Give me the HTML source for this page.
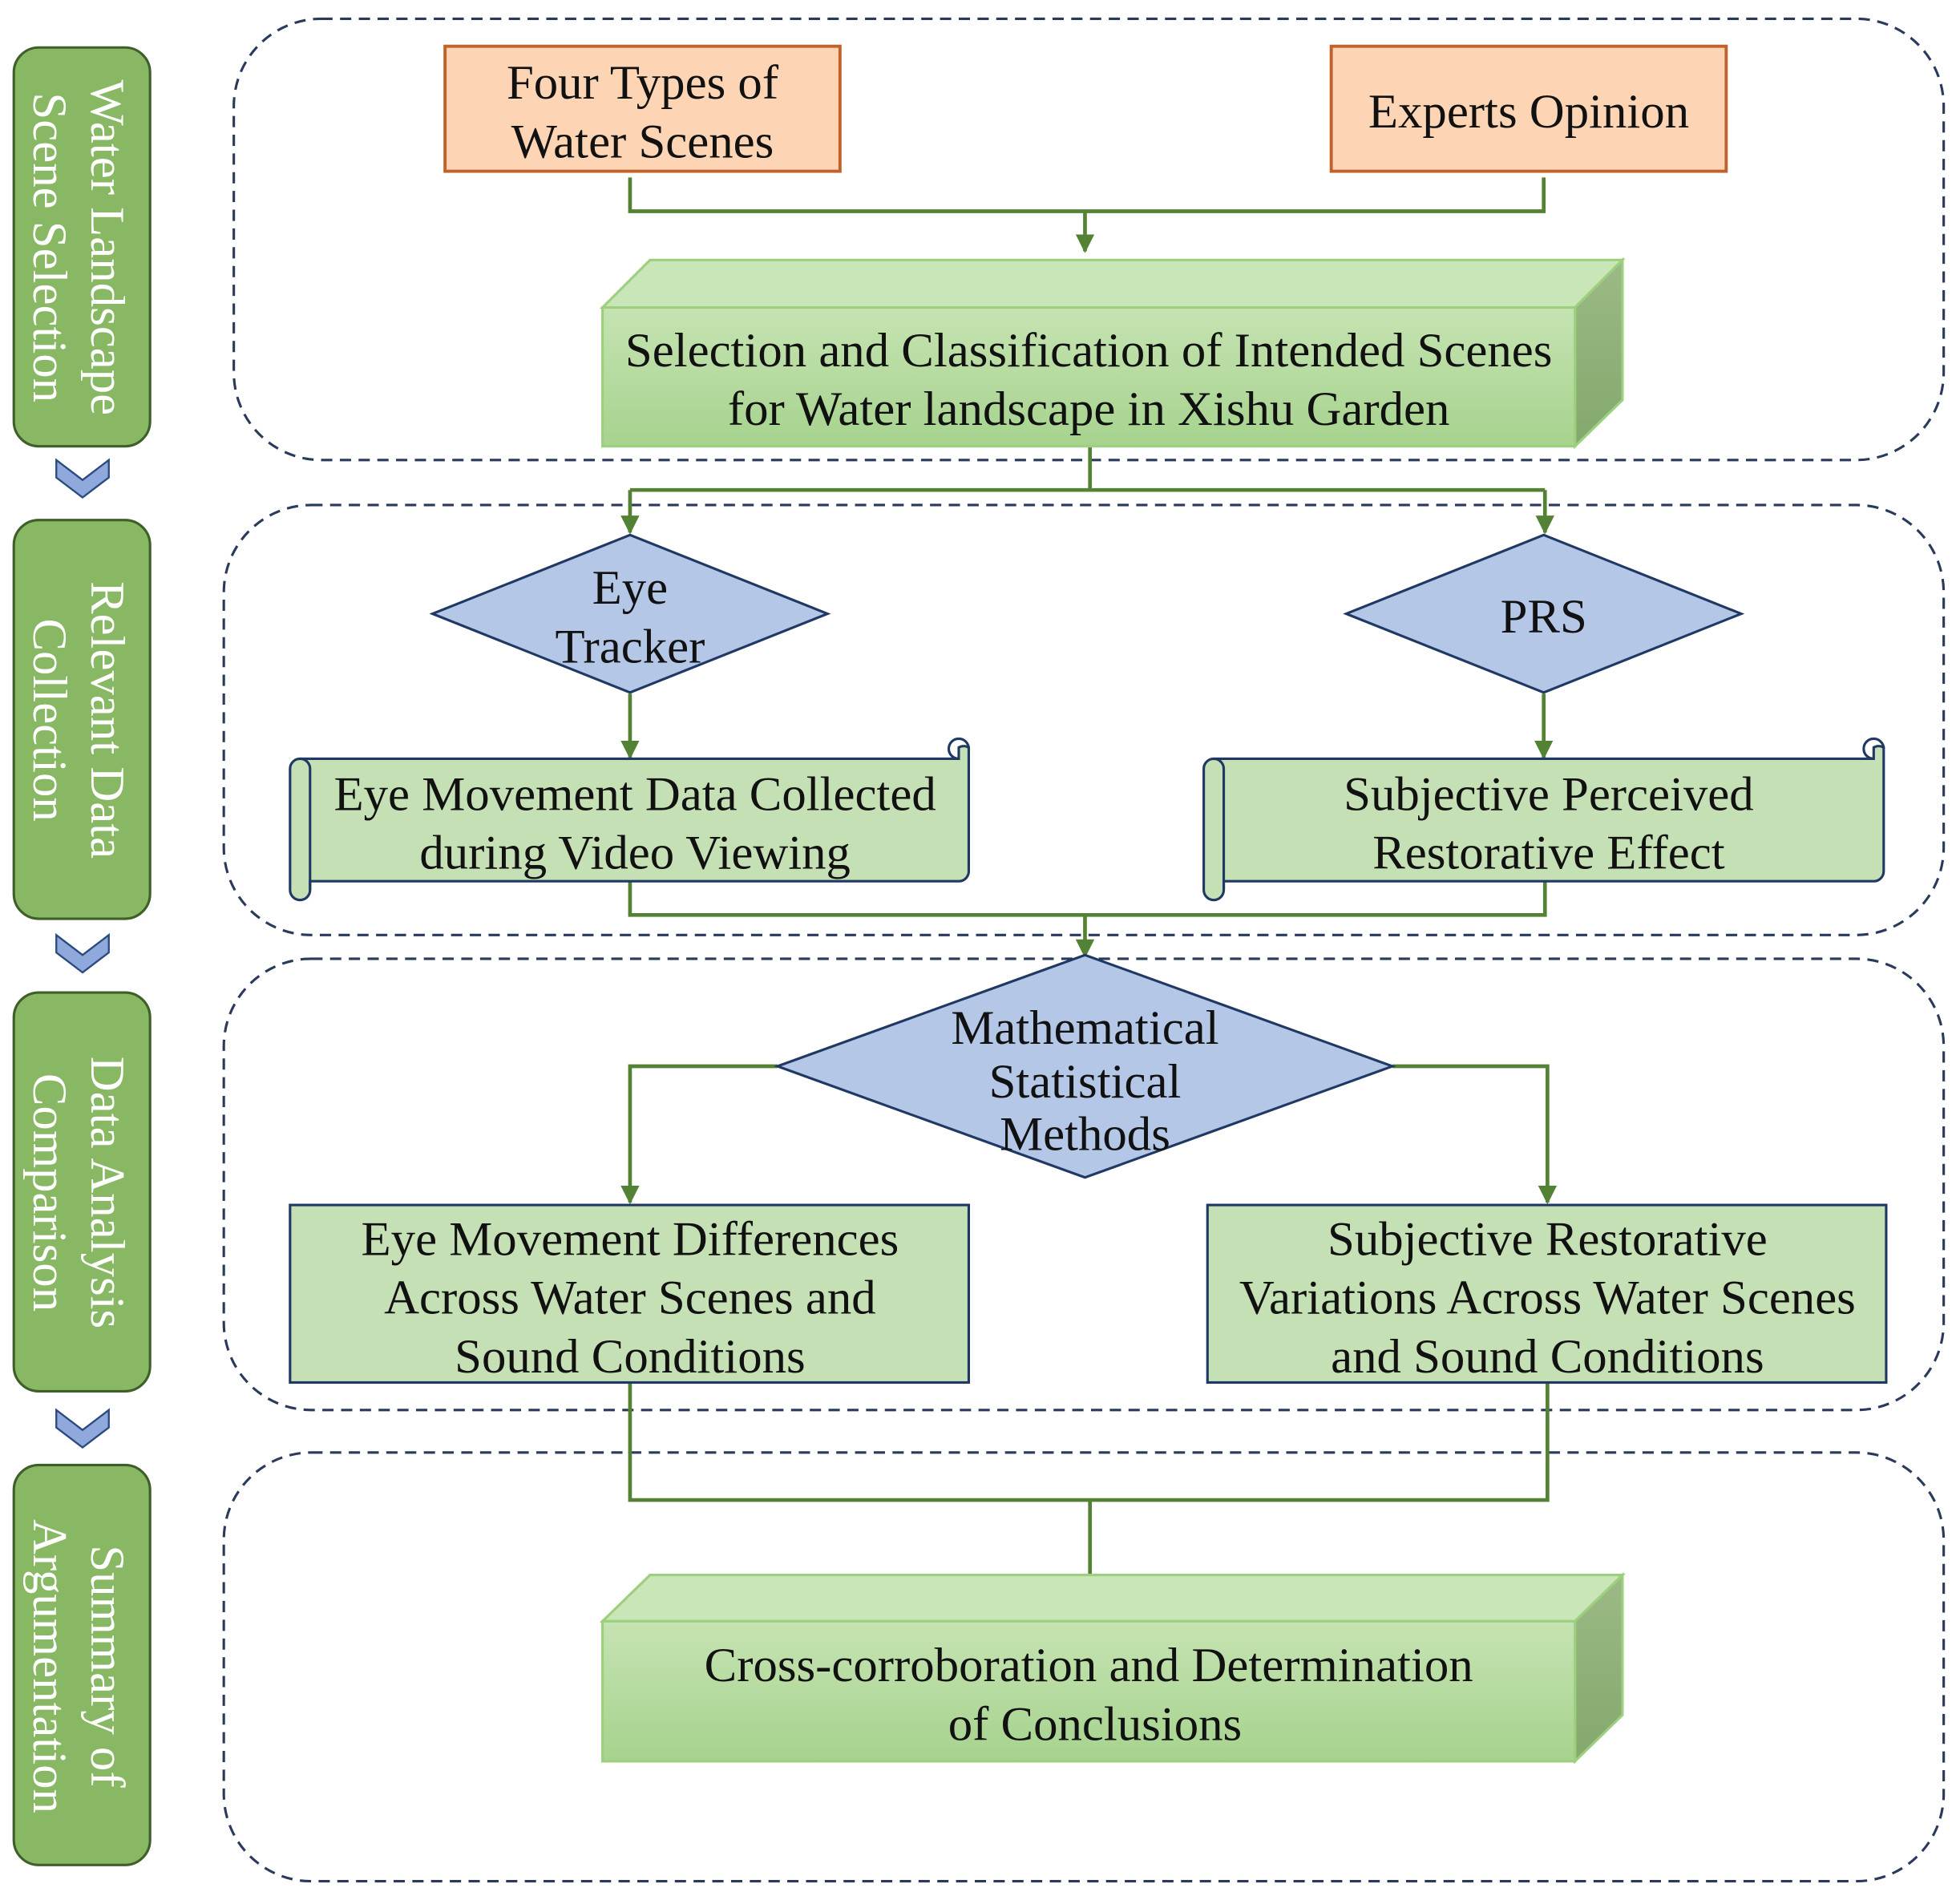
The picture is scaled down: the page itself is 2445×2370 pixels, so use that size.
<!DOCTYPE html>
<html><head><meta charset="utf-8"><style>html,body{margin:0;padding:0;background:#fff}svg{display:block}</style></head><body>
<svg xmlns="http://www.w3.org/2000/svg" width="2445" height="2370" viewBox="0 0 1568 1520" font-family="Liberation Serif, serif">
<defs>
<linearGradient id="g1" x1="0" y1="0" x2="0" y2="1"><stop offset="0" stop-color="#c6e3b2"/><stop offset="1" stop-color="#a6d38e"/></linearGradient>
<linearGradient id="gs" x1="0" y1="0" x2="0" y2="1"><stop offset="0" stop-color="#9cba86"/><stop offset="1" stop-color="#83a86c"/></linearGradient>
<marker id="ar" viewBox="0 0 10 10" refX="9" refY="5" markerWidth="5" markerHeight="5" orient="auto"><path d="M0,0L10,5L0,10z" fill="#548235"/></marker>
</defs>
<rect width="1568" height="1520" fill="#fff"/>
<g fill="none" stroke="#2b3a5c" stroke-width="2" stroke-dasharray="9,6">
<rect x="187" y="15" width="1368" height="353" rx="70"/>
<rect x="179" y="404" width="1376" height="344" rx="70"/>
<rect x="179" y="767" width="1376" height="361" rx="70"/>
<rect x="179" y="1162" width="1376" height="343" rx="70"/>
</g>
<g fill="#88b864" stroke="#3e5f2a" stroke-width="2">
<rect x="11" y="38" width="109" height="319" rx="20"/>
<rect x="11" y="416" width="109" height="319" rx="20"/>
<rect x="11" y="794" width="109" height="319" rx="20"/>
<rect x="11" y="1172" width="109" height="320" rx="20"/>
</g>
<g fill="#fff" font-size="39" text-anchor="middle">
<text transform="translate(73,198) rotate(90)">Water Landscape</text>
<text transform="translate(27,198) rotate(90)">Scene Selection</text>
<text transform="translate(73,576) rotate(90)">Relevant Data</text>
<text transform="translate(27,576) rotate(90)">Collection</text>
<text transform="translate(73,954) rotate(90)">Data Analysis</text>
<text transform="translate(27,954) rotate(90)">Comparison</text>
<text transform="translate(73,1333) rotate(90)">Summary of</text>
<text transform="translate(27,1333) rotate(90)">Argumentation</text>
</g>
<g fill="#8fa9dc" stroke="#2b4a80" stroke-width="1.5">
<path d="M45,368L66,384L87,368L87,382L66,398L45,382z"/>
<path d="M45,748L66,764L87,748L87,762L66,778L45,762z"/>
<path d="M45,1128L66,1144L87,1128L87,1142L66,1158L45,1142z"/>
</g>
<g fill="none" stroke="#548235" stroke-width="3">
<path d="M504,142V169H1235V142"/>
<path d="M868,169V201" marker-end="url(#ar)"/>
<path d="M872,357V392"/>
<path d="M504,392H1236"/>
<path d="M504,392V426" marker-end="url(#ar)"/>
<path d="M1236,392V426" marker-end="url(#ar)"/>
<path d="M504,555V606" marker-end="url(#ar)"/>
<path d="M1235,555V606" marker-end="url(#ar)"/>
<path d="M504,705V732H1236V705"/>
<path d="M868,732V765" marker-end="url(#ar)"/>
<path d="M622,853H504V962" marker-end="url(#ar)"/>
<path d="M1114,853H1238V962" marker-end="url(#ar)"/>
<path d="M504,1106V1200H1238V1106"/>
<path d="M872,1200V1260"/>
</g>
<g fill="#fdd5b5" stroke="#c0622b" stroke-width="2.5">
<rect x="356" y="37" width="316" height="100"/>
<rect x="1065" y="37" width="316" height="100"/>
</g>
<g font-size="39" fill="#111" text-anchor="middle">
<text x="514" y="79">Four Types of</text>
<text x="514" y="126">Water Scenes</text>
<text x="1223" y="102">Experts Opinion</text>
</g>
<g stroke="#9ccf7e" stroke-width="2">
<path d="M482,246L520,208H1298L1260,246z" fill="#c9e6b8"/>
<path d="M1260,246L1298,208V320L1260,357z" fill="url(#gs)"/>
<rect x="482" y="246" width="778" height="111" fill="url(#g1)"/>
<path d="M482,1297L520,1260H1298L1260,1297z" fill="#c9e6b8"/>
<path d="M1260,1297L1298,1260V1372L1260,1409z" fill="url(#gs)"/>
<rect x="482" y="1297" width="778" height="112" fill="url(#g1)"/>
</g>
<g font-size="39" fill="#111" text-anchor="middle">
<text x="871" y="293">Selection and Classification of Intended Scenes</text>
<text x="871" y="340">for Water landscape in Xishu Garden</text>
<text x="871" y="1345">Cross-corroboration and Determination</text>
<text x="876" y="1392">of Conclusions</text>
</g>
<g fill="#b4c7e7" stroke="#1f3864" stroke-width="2">
<path d="M346,491L504,428L662,491L504,554z"/>
<path d="M1077,491L1235,428L1393,491L1235,554z"/>
<path d="M622,853L868,764L1114,853L868,942z"/>
</g>
<g font-size="39" fill="#111" text-anchor="middle">
<text x="504" y="483">Eye</text>
<text x="504" y="530">Tracker</text>
<text x="1235" y="506">PRS</text>
<text x="868" y="835">Mathematical</text>
<text x="868" y="878">Statistical</text>
<text x="868" y="920">Methods</text>
</g>
<g fill="#c5e0b4" stroke="#1f3864" stroke-width="2">
<path d="M240,607H767V598a8,8 0 0 1 8,0V697a8,8 0 0 1 -8,8H248V712a8,8 0 0 1 -16,0V615a8,8 0 0 1 8,-8z"/>
<path d="M240,607a8,8 0 0 1 8,8V712M767,607a8,8 0 1 1 8,-8" fill="none"/>
<path d="M971,607H1499V598a8,8 0 0 1 8,0V697a8,8 0 0 1 -8,8H979V712a8,8 0 0 1 -16,0V615a8,8 0 0 1 8,-8z"/>
<path d="M971,607a8,8 0 0 1 8,8V712M1499,607a8,8 0 1 1 8,-8" fill="none"/>
<rect x="232" y="964" width="543" height="142"/>
<rect x="966" y="964" width="543" height="142"/>
</g>
<g font-size="39" fill="#111" text-anchor="middle">
<text x="508" y="648">Eye Movement Data Collected</text>
<text x="508" y="695">during Video Viewing</text>
<text x="1239" y="648">Subjective Perceived</text>
<text x="1239" y="695">Restorative Effect</text>
<text x="504" y="1004">Eye Movement Differences</text>
<text x="504" y="1051">Across Water Scenes and</text>
<text x="504" y="1098">Sound Conditions</text>
<text x="1238" y="1004">Subjective Restorative</text>
<text x="1238" y="1051">Variations Across Water Scenes</text>
<text x="1238" y="1098">and Sound Conditions</text>
</g>
</svg>
</body></html>
